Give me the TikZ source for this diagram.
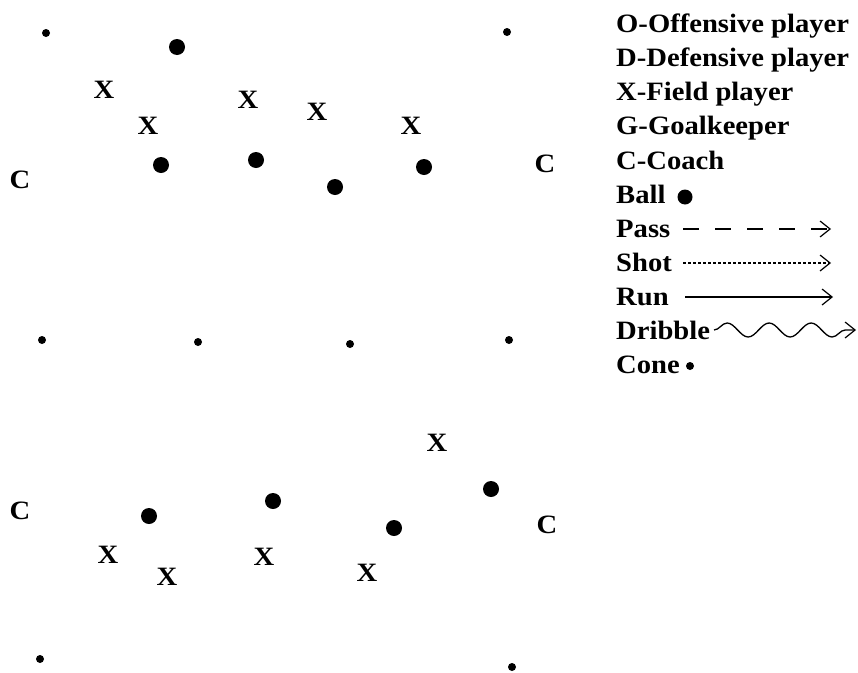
\documentclass[tikz,border=0pt]{standalone}
\usepackage{fontspec}
\setmainfont{Liberation Serif}[FakeStretch=1.08]
\usetikzlibrary{decorations.pathmorphing,arrows.meta}

\tikzset{
  player/.style={font=\fontsize{26.5}{26.5}\selectfont\bfseries, inner sep=0pt},
  ball/.style={circle, fill=black, minimum size=16pt, inner sep=0pt},
  cone/.style={circle, fill=black, minimum size=8pt, inner sep=0pt},
  legend/.style={anchor=base west, font=\fontsize{26.5}{26.5}\selectfont\bfseries, inner sep=0pt},
  tip/.style={-{Straight Barb[length=10pt,width=16pt,line width=1.2pt]}, line width=1.3pt}
}

\begin{document}
\begin{tikzpicture}[x=1pt, y=-1pt]
    \useasboundingbox (0,0) rectangle (858,672);

    % Top drill
    \node[cone] (c1) at (46,33) {};
    \node[cone] (c2) at (507,32) {};
    \node[ball] (b1) at (177,47) {};
    \node[player] (x1) at (104,90) {X};
    \node[player] (x2) at (148,126) {X};
    \node[player] (x3) at (248,100) {X};
    \node[player] (x4) at (317,112) {X};
    \node[player] (x5) at (411,126) {X};
    \node[ball] (b2) at (161,165) {};
    \node[ball] (b3) at (256,160) {};
    \node[ball] (b4) at (335,187) {};
    \node[ball] (b5) at (424,167) {};
    \node[player] (ca) at (20,180) {C};
    \node[player] (cb) at (545,164) {C};

    % Middle cones
    \node[cone] (c3) at (42,340) {};
    \node[cone] (c4) at (198,342) {};
    \node[cone] (c5) at (350,344) {};
    \node[cone] (c6) at (509,340) {};

    % Bottom drill
    \node[player] (x6) at (437,443) {X};
    \node[ball] (b6) at (491,489) {};
    \node[player] (cc) at (20,511) {C};
    \node[ball] (b7) at (149,516) {};
    \node[ball] (b8) at (273,501) {};
    \node[ball] (b9) at (394,528) {};
    \node[player] (cd) at (547,525) {C};
    \node[player] (x7) at (108,555) {X};
    \node[player] (x8) at (167,577) {X};
    \node[player] (x9) at (264,557) {X};
    \node[player] (x10) at (367,573) {X};
    \node[cone] (c7) at (40,659) {};
    \node[cone] (c8) at (512,667) {};

    % Legend
    \node[legend] (lo) at (616,32) {O-Offensive player};
    \node[legend] (ld) at (616,66) {D-Defensive player};
    \node[legend] (lx) at (616,100) {X-Field player};
    \node[legend] (lg) at (616,134) {G-Goalkeeper};
    \node[legend] (lc) at (616,169) {C-Coach};
    \node[legend] (lb) at (616,203) {Ball};
    \node[ball, minimum size=15pt] (lball) at (685,197) {};
    \node[legend] (lp) at (616,237) {Pass};
    \node[legend] (ls) at (616,271) {Shot};
    \node[legend] (lr) at (616,305) {Run};
    \node[legend] (ldr) at (616,339) {Dribble};
    \node[legend] (lcn) at (616,373) {Cone};
    \node[cone] (lcone) at (690,366) {};

    \coordinate (pe) at (831,229);
    \coordinate (se) at (831,263);
    \coordinate (re) at (833,297);
    \coordinate (de) at (856,330);
    \draw[tip, dash pattern=on 16pt off 16pt] (683,229) -- (pe);
    \draw[tip, dash pattern=on 2.5pt off 2.5pt] (683,263) -- (se);
    \draw[tip] (685,297) -- (re);
    \draw[tip, decorate, decoration={snake, amplitude=7pt, segment length=42pt, post length=8pt}] (714,330) -- (de);
\end{tikzpicture}
\end{document}
